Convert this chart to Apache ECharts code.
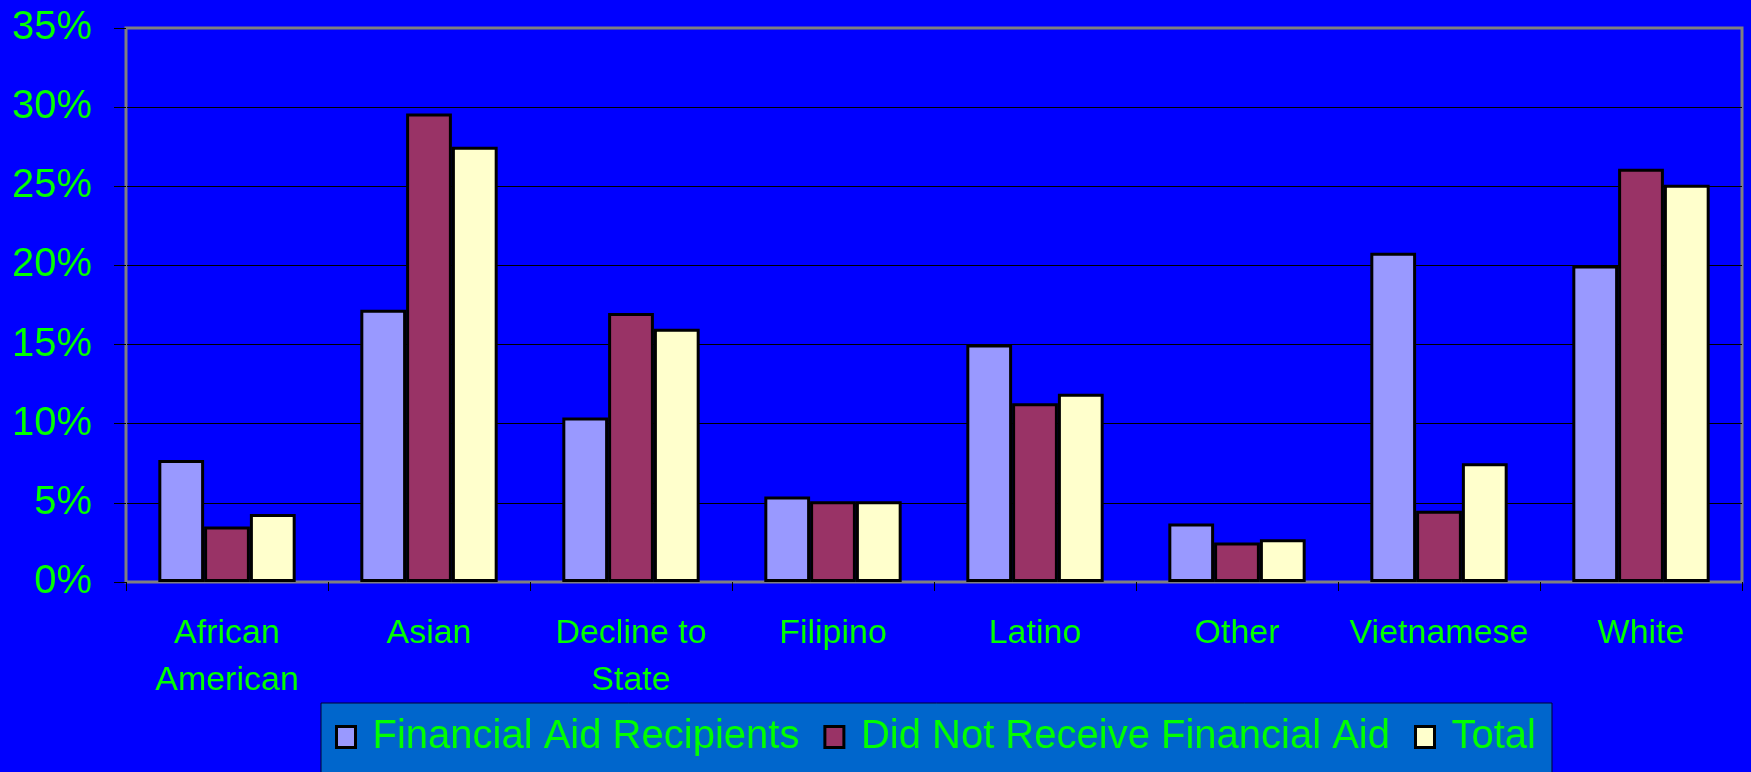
<!DOCTYPE html>
<html>
<head>
<meta charset="utf-8">
<title>Ethnicity by Financial Aid Status</title>
<script src="https://cdn.jsdelivr.net/npm/echarts@6/dist/echarts.min.js"></script>
<style>
  html, body { margin: 0; padding: 0; background: #0000FF; }
  #chart { width: 1751px; height: 772px; }
</style>
</head>
<body>
<div id="chart"></div>
<script>
// Ethnic groups along the x axis
const categories = ['African\nAmerican', 'Asian', 'Decline to\nState', 'Filipino', 'Latino', 'Other', 'Vietnamese', 'White'];

// Share of each group, in percent
const aidRecipients = [7.7, 17.2, 10.4, 5.4, 15.0, 3.7, 20.8, 20.0];
const noAid        = [3.5, 29.6, 17.0, 5.1, 11.3, 2.5, 4.5, 26.1];
const totalShare   = [4.3, 27.5, 16.0, 5.1, 11.9, 2.7, 7.5, 25.1];

const seriesNames = ['Financial Aid Recipients', 'Did Not Receive Financial Aid', 'Total'];
const seriesColors = ['#9999FF', '#993366', '#FFFFCC'];

// Percent axis: 0% to 35% in steps of 5%
const yMin = 0, yMax = 35, yStep = 5;

const FONT = '"Liberation Sans", Arial, sans-serif';
const GREEN = '#00FF00';

const chart = echarts.init(document.getElementById('chart'), null, { renderer: 'canvas' });

function barSeries(name, data, color) {
  return {
    name: name,
    type: 'bar',
    data: data,
    barGap: '0%',
    barCategoryGap: '32%',
    itemStyle: { color: color, borderColor: '#000000', borderWidth: 3 },
    emphasis: { disabled: true },
    animation: false
  };
}

chart.setOption({
  backgroundColor: '#0000FF',
  animation: false,
  textStyle: { fontFamily: FONT },
  grid: {
    left: 126, right: 9, top: 28, bottom: 190,
    show: true,
    borderColor: '#808080',
    borderWidth: 3,
    backgroundColor: 'transparent'
  },
  legend: {
    data: seriesNames,
    left: 321,
    top: 703,
    padding: [14, 16, 40, 14],
    itemGap: 24,
    itemWidth: 19,
    itemHeight: 21,
    icon: 'rect',
    itemStyle: { borderColor: '#000000', borderWidth: 3 },
    backgroundColor: '#0066CC',
    borderColor: '#000033',
    borderWidth: 1,
    textStyle: { color: GREEN, fontSize: 40, fontFamily: FONT, padding: [0, 0, 0, 12] },
    selectedMode: false
  },
  xAxis: {
    type: 'category',
    data: categories,
    boundaryGap: true,
    axisLine: { show: true, lineStyle: { color: '#808080', width: 2 } },
    axisTick: { show: true, length: 9, alignWithLabel: false, lineStyle: { color: '#000000', width: 1 } },
    axisLabel: {
      interval: 0,
      color: GREEN,
      fontSize: 34,
      fontFamily: FONT,
      lineHeight: 47,
      margin: 28
    },
    splitLine: { show: false }
  },
  yAxis: {
    type: 'value',
    min: yMin,
    max: yMax,
    interval: yStep,
    axisLine: { show: true, lineStyle: { color: '#808080', width: 2 } },
    axisTick: { show: true, length: 12, lineStyle: { color: '#000000', width: 1 } },
    axisLabel: {
      color: GREEN,
      fontSize: 40,
      fontFamily: FONT,
      margin: 34,
      formatter: '{value}%'
    },
    splitLine: {
      show: true,
      showMinLine: false,
      showMaxLine: false,
      lineStyle: { color: '#000000', width: 1 }
    }
  },
  series: [
    barSeries(seriesNames[0], aidRecipients, seriesColors[0]),
    barSeries(seriesNames[1], noAid, seriesColors[1]),
    barSeries(seriesNames[2], totalShare, seriesColors[2])
  ]
});
</script>
</body>
</html>
